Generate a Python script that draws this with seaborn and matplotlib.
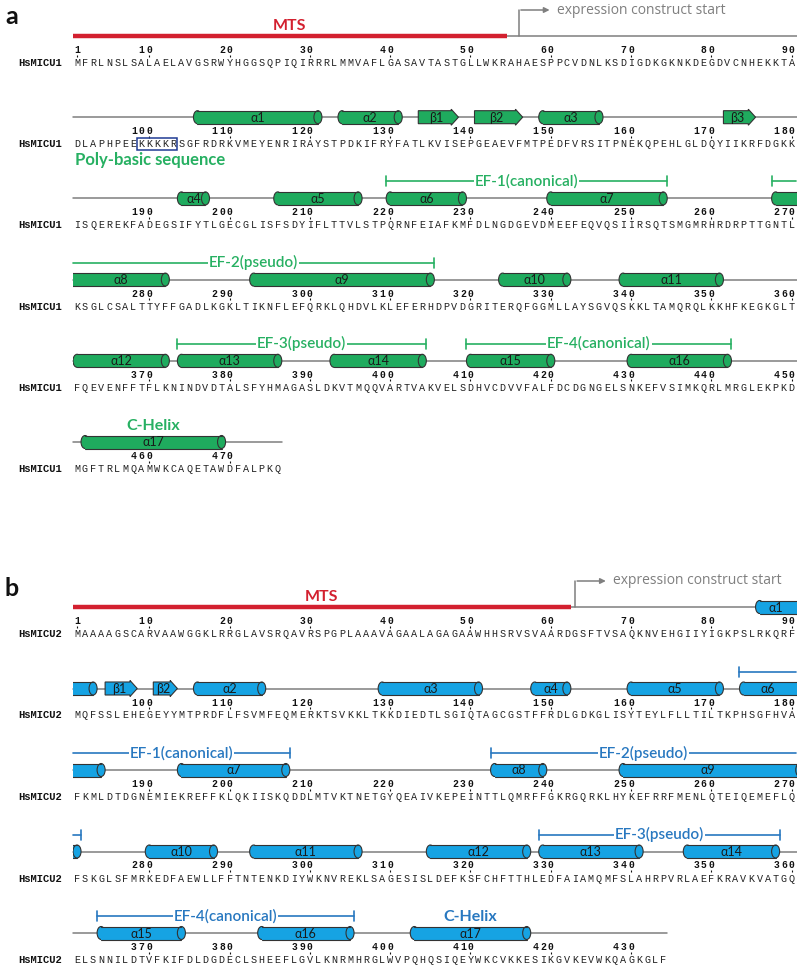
import matplotlib
matplotlib.use("Agg")
import matplotlib.pyplot as plt
from matplotlib.patches import Ellipse, Rectangle, Polygon
import seaborn as sns

# ---- data -------------------------------------------------------------
micu1_name = "HsMICU1"
micu1_seq = ("MFRLNSLSALAELAVGSRWYHGGSQPIQIRRRLMMVAFLGASAVTASTGLLWKRAHAESPPCVDNLKSDIGDKGKNKDEGDVCNHEKKTA"
             "DLAPHPEEKKKKRSGFRDRKVMEYENRIRAYSTPDKIFRYFATLKVISEPGEAEVFMTPEDFVRSITPNEKQPEHLGLDQYIIKRFDGKK"
             "ISQEREKFADEGSIFYTLGECGLISFSDYIFLTTVLSTPQRNFEIAFKMFDLNGDGEVDMEEFEQVQSIIRSQTSMGMRHRDRPTTGNTL"
             "KSGLCSALTTYFFGADLKGKLTIKNFLEFQRKLQHDVLKLEFERHDPVDGRITERQFGGMLLAYSGVQSKKLTAMQRQLKKHFKEGKGLT"
             "FQEVENFFTFLKNINDVDTALSFYHMAGASLDKVTMQQVARTVAKVELSDHVCDVVFALFDCDGNGELSNKEFVSIMKQRLMRGLEKPKD"
             "MGFTRLMQAMWKCAQETAWDFALPKQ")
micu1_helices = [("α1", 106, 121), ("α2", 124, 131), ("α3", 149, 156), ("α4", 194, 197),
                 ("α5", 206, 216), ("α6", 220, 229), ("α7", 240, 254), ("α8", 268, 282),
                 ("α9", 293, 315), ("α10", 324, 332), ("α11", 339, 351), ("α12", 361, 372),
                 ("α13", 374, 386), ("α14", 393, 404), ("α15", 410, 420), ("α16", 430, 442),
                 ("α17", 452, 469)]
micu1_strands = [("β1", 134, 138), ("β2", 141, 146), ("β3", 172, 175)]
micu1_ef = [("EF-1(canonical)", 220, 254), ("EF-2(pseudo)", 268, 315),
            ("EF-3(pseudo)", 374, 404), ("EF-4(canonical)", 410, 442)]
micu1_chelix = ("C-Helix", 452, 469)
micu1_mts_end = 54
micu1_construct = 56
micu1_polybasic = (99, 103)

micu2_name = "HsMICU2"
micu2_seq = ("MAAAAGSCARVAAWGGKLRRGLAVSRQAVRSPGPLAAAVAGAALAGAGAAWHHSRVSVAARDGSFTVSAQKNVEHGIIYIGKPSLRKQRF"
             "MQFSSLEHEGEYYMTPRDFLFSVMFEQMERKTSVKKLTKKDIEDTLSGIQTAGCGSTFFRDLGDKGLISYTEYLFLLTILTKPHSGFHVA"
             "FKMLDTDGNEMIEKREFFKLQKIISKQDDLMTVKTNETGYQEAIVKEPEINTTLQMRFFGKRGQRKLHYKEFRRFMENLQTEIQEMEFLQ"
             "FSKGLSFMRKEDFAEWLLFFTNTENKDIYWKNVREKLSAGESISLDEFKSFCHFTTHLEDFAIAMQMFSLAHRPVRLAEFKRAVKVATGQ"
             "ELSNNILDTVFKIFDLDGDECLSHEEFLGVLKNRMHRGLWVPQHQSIQEYWKCVKKESIKGVKEVWKQAGKGLF")
micu2_helices = [("α1", 86, 93), ("α2", 106, 114), ("α3", 129, 141), ("α4", 148, 152),
                 ("α5", 160, 171), ("α6", 174, 184), ("α7", 194, 207), ("α8", 233, 239),
                 ("α9", 249, 271), ("α10", 280, 288), ("α11", 293, 306), ("α12", 315, 327),
                 ("α13", 329, 341), ("α14", 347, 358), ("α15", 364, 374), ("α16", 384, 395),
                 ("α17", 403, 417)]
micu2_strands = [("β1", 95, 98), ("β2", 101, 103)]
micu2_ef = [("EF-1(canonical)", 174, 207), ("EF-2(pseudo)", 233, 271),
            ("EF-3(pseudo)", 329, 358), ("EF-4(canonical)", 364, 395)]
micu2_chelix = ("C-Helix", 403, 417)
micu2_mts_end = 62
micu2_construct = 63

# ---- style ------------------------------------------------------------
sns.set_theme(style="white")
plt.rcParams["font.family"] = ["Lato", "DejaVu Sans"]

ROW = 90
PITCH = 8.03          # pixels per residue
X0 = 73               # pixel where the sequence starts
W, H = 797, 966
EDGE = "#333333"
GREY = "#7f7f7f"
RED = "#d3202f"
SEQFONT = "Liberation Mono"

fig = plt.figure(figsize=(W / 100, H / 100), dpi=100)
ax = fig.add_axes([0, 0, 1, 1])
ax.set_xlim(-X0 / PITCH, (W - X0) / PITCH)
ax.set_ylim(H, 0)
ax.axis("off")

clip = Rectangle((0, 0), ROW + 0.5, H, transform=ax.transData)


def clipped(artists):
    for a in artists:
        a.set_clip_path(clip)


def row_parts(u0, u1, n):
    out = []
    for k in range((n + ROW - 1) // ROW):
        a, b = max(u0, k * ROW), min(u1, (k + 1) * ROW)
        if b > a:
            out.append((k, a - k * ROW, b - k * ROW))
    return out


def cylinder(x0, x1, yc, fc):
    h, r = 13, 0.5
    arts = [Ellipse((x0 + r, yc), 2 * r, h, fc=fc, ec=EDGE, lw=0.8, zorder=3),
            Rectangle((x0 + r, yc - h / 2), x1 - x0 - 2 * r, h, fc=fc, ec="none", zorder=3),
            Ellipse((x1 - r, yc), 2 * r, h, fc=fc, ec=EDGE, lw=0.8, zorder=4)]
    for a in arts:
        ax.add_patch(a)
    arts += ax.plot([x0 + r, x1 - r], [yc - h / 2] * 2, color=EDGE, lw=0.8, zorder=4)
    arts += ax.plot([x0 + r, x1 - r], [yc + h / 2] * 2, color=EDGE, lw=0.8, zorder=4)
    clipped(arts)


def arrow(x0, x1, yc, fc):
    h, hd = 13, 0.9
    p = Polygon([(x0, yc - h / 2), (x1 - hd, yc - h / 2), (x1 - hd, yc - h / 2 - 1.5),
                 (x1, yc), (x1 - hd, yc + h / 2 + 1.5), (x1 - hd, yc + h / 2), (x0, yc + h / 2)],
                closed=True, fc=fc, ec=EDGE, lw=0.8, zorder=3)
    ax.add_patch(p)


def draw_panel(letter, name, seq, helices, strands, efs, chelix, mts_end, construct,
               tracks, fill, tcol):
    n = len(seq)
    # panel letter
    ax.text(-7.6, tracks[0] - 19, letter, fontsize=18, weight="bold", ha="center",
            va="center", color="#111111")
    # backbone lines
    for k, yt in enumerate(tracks):
        xend = min(ROW, n - k * ROW)
        x_start = mts_end if k == 0 else 0
        ax.plot([x_start, xend + (0.2 if xend == ROW else 0)], [yt, yt], color=GREY, lw=1.1, zorder=1)
    # MTS
    ax.plot([0, mts_end], [tracks[0]] * 2, color=RED, lw=3.2, solid_capstyle="butt", zorder=2)
    ax.text(mts_end / 2, tracks[0] - 10, "MTS", color=RED, fontsize=11.5, weight="bold",
            ha="center", va="center")
    # construct start
    xc = construct - 0.5
    ty = tracks[0] - 26
    ax.plot([xc, xc], [tracks[0], ty], color=GREY, lw=1.1)
    ax.annotate("", xy=(xc + 4.2, ty), xytext=(xc - 0.07, ty),
                arrowprops=dict(arrowstyle="-|>", color=GREY, lw=1.1, mutation_scale=8))
    ax.text(xc + 4.8, ty, "expression construct start", color=GREY, fontsize=10,
            family="Open Sans", ha="left", va="center")

    # helices
    for lab, s, e in helices:
        parts = row_parts(s - 1, e, n)
        best = max(parts, key=lambda p: p[2] - p[1])
        for k, a, b in parts:
            off = k * ROW
            cylinder(s - 1 - off, e - off, tracks[k], fill)
            if (k, a, b) == best:
                ax.text((a + b) / 2, tracks[k] + 0.5, lab, fontsize=9, ha="center",
                        va="center", color="#1a1a1a", zorder=5)
    for lab, s, e in strands:
        k = (s - 1) // ROW
        off = k * ROW
        arrow(s - 1 - off, e - off, tracks[k], fill)
        ax.text((s - 1 + e) / 2 - off - 0.3, tracks[k] + 0.5, lab, fontsize=9, ha="center",
                va="center", color="#1a1a1a", zorder=5)

    # EF-hand brackets and C-helix
    for lab, s, e in efs:
        parts = row_parts(s - 1, e, n)
        best = max(parts, key=lambda p: p[2] - p[1])
        for k, a, b in parts:
            yb = tracks[k] - 17
            ax.plot([a, b], [yb, yb], color=tcol, lw=1.2, zorder=2)
            if a == s - 1 - k * ROW:
                ax.plot([a, a], [yb - 5, yb + 5], color=tcol, lw=1.2)
            if b == e - k * ROW:
                ax.plot([b, b], [yb - 5, yb + 5], color=tcol, lw=1.2)
            if (k, a, b) == best:
                ax.text((a + b) / 2, yb, lab, color=tcol, fontsize=11, weight="semibold",
                        ha="center", va="center", zorder=3,
                        bbox=dict(fc="white", ec="none", pad=0.5))
    lab, s, e = chelix
    k = (s - 1) // ROW
    ax.text((s - 1 + e) / 2 - k * ROW, tracks[k] - 16, lab, color=tcol, fontsize=11.5,
            weight="bold", ha="center", va="center")

    # numbers, sequence and name
    for k, yt in enumerate(tracks):
        chunk = seq[k * ROW:(k + 1) * ROW]
        for i, ch in enumerate(chunk):
            ax.text(i + 0.5, yt + 27, ch, family=SEQFONT, fontsize=7.3, ha="center",
                    va="center", color="#222222")
            r = k * ROW + i + 1
            if r == 1 or r % 10 == 0:
                digits = str(r)
                for j, d in enumerate(digits):
                    ax.text(i + 0.5 - (len(digits) - 1 - j) * 0.95, yt + 14, d,
                            family=SEQFONT, weight="bold", fontsize=7, ha="center",
                            va="center", color="#111111")
                ax.plot([i + 0.5], [yt + 19.5], marker="|", ms=2, mew=0.8, color="#111111")
        ax.text(-6.85, yt + 27, name, family=SEQFONT, weight="bold", fontsize=7.6,
                ha="left", va="center", color="#111111")


a_tracks = [36 + 81.2 * k for k in range(6)]
b_tracks = [607 + 81.5 * k for k in range(5)]

GREEN, GREEN_T = "#1fab5e", "#27b062"
BLUE, BLUE_T = "#16a3e3", "#2878c0"

draw_panel("a", micu1_name, micu1_seq, micu1_helices, micu1_strands, micu1_ef,
           micu1_chelix, micu1_mts_end, micu1_construct, a_tracks, GREEN, GREEN_T)
draw_panel("b", micu2_name, micu2_seq, micu2_helices, micu2_strands, micu2_ef,
           micu2_chelix, micu2_mts_end, micu2_construct, b_tracks, BLUE, BLUE_T)

# poly-basic box and label (MICU1)
s, e = micu1_polybasic
k = (s - 1) // ROW
ax.add_patch(Rectangle((s - 1 - k * ROW, a_tracks[k] + 21), e - s + 1, 12, fc="none",
                       ec="#1f3a93", lw=1.1, zorder=5))
ax.text(0.25, a_tracks[k] + 43, "Poly-basic sequence", color=GREEN_T, fontsize=12,
        weight="bold", ha="left", va="center")

fig.savefig("out.png", dpi=100)
